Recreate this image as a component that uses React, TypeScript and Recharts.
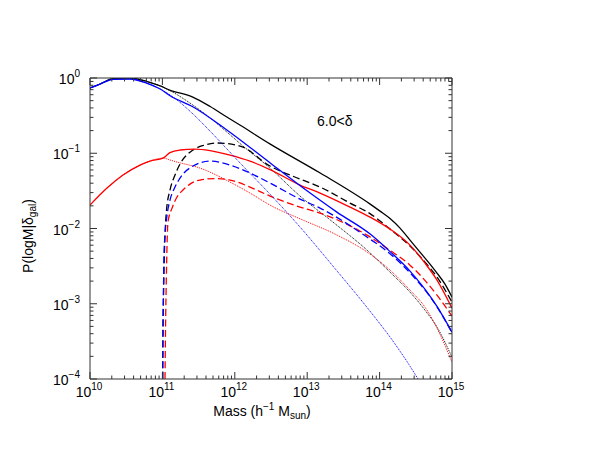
import { LineChart, Line, XAxis, YAxis } from 'recharts';

const W = 592;
const H = 458;
const FONT = '"Liberation Sans", Arial, Helvetica, sans-serif';
const AXIS = '#333';

// log10(M) and log10(P), one pair of arrays per curve
const blackTotalM = [10.0, 10.14, 10.32, 10.55, 10.79, 10.97, 11.1, 11.42, 11.66, 11.89, 12.07, 12.49, 13.18, 13.87, 14.006, 14.144, 14.282, 14.42, 14.558, 14.696, 14.793, 14.903, 15.0];
const blackTotalP = [-0.133, -0.08, -0.007, 0.0, -0.047, -0.106, -0.16, -0.253, -0.379, -0.519, -0.625, -0.878, -1.263, -1.676, -1.769, -1.868, -1.995, -2.154, -2.314, -2.473, -2.593, -2.739, -2.912];

const blackCentralM = [10.0, 10.14, 10.32, 10.55, 10.79, 10.97, 11.1, 11.42, 11.66, 11.89, 12.113, 12.486, 12.901, 13.356, 13.826, 14.144, 14.42, 14.627, 14.793, 15.0];
const blackCentralP = [-0.133, -0.08, -0.007, 0.0, -0.047, -0.106, -0.166, -0.359, -0.532, -0.718, -0.904, -1.197, -1.569, -1.915, -2.287, -2.58, -2.846, -3.085, -3.311, -3.71];

const blackSatM = [11.004, 11.008, 11.015, 11.022, 11.036, 11.057, 11.105, 11.174, 11.243, 11.423, 11.588, 11.754, 12.072, 12.486, 12.901, 13.177, 13.591, 13.867, 14.144, 14.42, 14.627, 14.793, 15.0];
const blackSatP = [-4.0, -3.4, -2.9, -2.55, -2.088, -1.755, -1.489, -1.29, -1.144, -0.957, -0.891, -0.864, -0.904, -1.17, -1.343, -1.449, -1.662, -1.802, -2.008, -2.234, -2.447, -2.646, -2.979];

const redTotalM = [10.0, 10.235, 10.456, 10.691, 10.829, 11.008, 11.064, 11.105, 11.243, 11.45, 11.657, 11.934, 12.21, 12.486, 12.901, 13.177, 13.591, 13.867, 14.144, 14.42, 14.627, 14.793, 15.0];
const redTotalP = [-1.689, -1.463, -1.29, -1.157, -1.104, -1.064, -1.024, -0.991, -0.957, -0.944, -0.964, -1.024, -1.104, -1.217, -1.423, -1.529, -1.715, -1.848, -2.008, -2.221, -2.46, -2.686, -3.059];

const redCentralM = [10.0, 10.235, 10.456, 10.691, 10.829, 11.008, 11.105, 11.202, 11.519, 11.934, 12.21, 12.486, 12.942, 13.356, 13.867, 14.144, 14.42, 14.627, 14.793, 15.0];
const redCentralP = [-1.689, -1.463, -1.29, -1.157, -1.104, -1.064, -1.09, -1.117, -1.197, -1.383, -1.529, -1.689, -1.888, -2.061, -2.34, -2.553, -2.819, -3.045, -3.324, -3.777];

const redSatM = [11.036, 11.043, 11.054, 11.064, 11.077, 11.133, 11.202, 11.285, 11.381, 11.519, 11.727, 11.934, 12.21, 12.486, 12.901, 13.177, 13.826, 14.144, 14.42, 14.793, 15.0];
const redSatP = [-4.0, -3.351, -2.686, -2.221, -1.915, -1.729, -1.582, -1.489, -1.41, -1.356, -1.336, -1.356, -1.449, -1.569, -1.715, -1.795, -2.088, -2.29, -2.487, -2.886, -3.165];

const blueTotalM = [10.0, 10.14, 10.32, 10.55, 10.79, 10.97, 11.1, 11.42, 11.89, 12.49, 13.04, 13.41, 13.87, 14.144, 14.42, 14.79, 15.0];
const blueTotalP = [-0.133, -0.08, -0.017, -0.013, -0.07, -0.146, -0.233, -0.382, -0.691, -1.13, -1.529, -1.782, -2.074, -2.307, -2.566, -3.032, -3.378];

const blueCentralM = [10.0, 10.14, 10.32, 10.55, 10.79, 10.97, 11.202, 11.423, 11.657, 11.892, 12.113, 12.486, 12.901, 13.356, 13.867, 14.185, 14.42, 14.558];
const blueCentralP = [-0.133, -0.08, -0.017, -0.013, -0.07, -0.146, -0.293, -0.479, -0.705, -0.944, -1.17, -1.543, -1.981, -2.5, -3.098, -3.497, -3.83, -4.043];

const blueSatM = [11.004, 11.008, 11.015, 11.022, 11.036, 11.064, 11.105, 11.174, 11.243, 11.423, 11.657, 11.934, 12.21, 12.486, 12.901, 13.177, 13.826, 14.144, 14.42, 14.793, 15.0];
const blueSatP = [-4.0, -3.351, -2.819, -2.354, -2.088, -1.822, -1.622, -1.449, -1.33, -1.17, -1.104, -1.157, -1.263, -1.396, -1.609, -1.729, -2.114, -2.335, -2.59, -3.04, -3.385];

const xMajorExp = [10, 11, 12, 13, 14, 15];
const yMajorExp = [-4, -3, -2, -1, 0];

const zip = (m: number[], p: number[]) => m.map((v, i) => ({ m: v, p: p[i] }));

const minorOf = (majors: number[]) => {
  const out: number[] = [];
  majors.slice(0, -1).forEach((n) => {
    for (let k = 2; k <= 9; k++) out.push(n + Math.log10(k));
  });
  return out;
};

const xTicks = [...xMajorExp, ...minorOf(xMajorExp)].sort((a, b) => a - b);
const yTicks = [...yMajorExp, ...minorOf(yMajorExp)].sort((a, b) => a - b);

const STYLES: Record<string, { dash?: string; width: number }> = {
  solid: { width: 1.3 },
  dashed: { dash: '7 3.5', width: 1.3 },
  dotted: { dash: '1 1', width: 1 },
};

const series = [
  { key: 'blackCentral', data: zip(blackCentralM, blackCentralP), color: '#000000', style: 'dotted' },
  { key: 'blackSat', data: zip(blackSatM, blackSatP), color: '#000000', style: 'dashed' },
  { key: 'blackTotal', data: zip(blackTotalM, blackTotalP), color: '#000000', style: 'solid' },
  { key: 'redCentral', data: zip(redCentralM, redCentralP), color: '#ff0000', style: 'dotted' },
  { key: 'redSat', data: zip(redSatM, redSatP), color: '#ff0000', style: 'dashed' },
  { key: 'redTotal', data: zip(redTotalM, redTotalP), color: '#ff0000', style: 'solid' },
  { key: 'blueCentral', data: zip(blueCentralM, blueCentralP), color: '#0000ff', style: 'dotted' },
  { key: 'blueSat', data: zip(blueSatM, blueSatP), color: '#0000ff', style: 'dashed' },
  { key: 'blueTotal', data: zip(blueTotalM, blueTotalP), color: '#0000ff', style: 'solid' },
];

const isMajor = (v: number) => Math.abs(v - Math.round(v)) < 1e-6;
const expLabel = (v: number) => {
  const n = Math.round(v);
  return n < 0 ? `\u2212${-n}` : `${n}`;
};

const XTick = ({ x, y, payload, side }: any) => {
  const v = payload.value;
  const major = isMajor(v);
  const len = major ? 7 : 3.5;
  const dir = side === 'top' ? 1 : -1;
  return (
    <g>
      <line x1={x} x2={x} y1={y} y2={y + dir * len} stroke={AXIS} strokeWidth={1} />
      {side === 'bottom' && major && (
        <text x={x - 1} y={y + 18} textAnchor="middle" fontFamily={FONT} fontSize={14} fill="#000">
          10<tspan dy={-7} fontSize={10}>{expLabel(v)}</tspan>
        </text>
      )}
    </g>
  );
};

const YTick = ({ x, y, payload, side }: any) => {
  const v = payload.value;
  const major = isMajor(v);
  const len = major ? 7 : 3.5;
  const dir = side === 'left' ? 1 : -1;
  return (
    <g>
      <line x1={x} x2={x + dir * len} y1={y} y2={y} stroke={AXIS} strokeWidth={1} />
      {side === 'left' && major && (
        <text x={x - 10} y={y + 6} textAnchor="end" fontFamily={FONT} fontSize={14} fill="#000">
          10<tspan dy={-7} fontSize={10}>{expLabel(v)}</tspan>
        </text>
      )}
    </g>
  );
};

const axisCommon = {
  interval: 0 as const,
  tickSize: 0,
  tickMargin: 0,
  tickLine: false,
  axisLine: { stroke: AXIS },
  allowDataOverflow: true,
  type: 'number' as const,
};

export default function App() {
  return (
    <div style={{ position: 'absolute', left: 0, top: 0, width: W, height: H, background: '#fff' }}>
      <LineChart width={W} height={H} margin={{ top: 77, right: 139, bottom: 78, left: 89 }}>
        <XAxis
          {...axisCommon}
          xAxisId="b"
          dataKey="m"
          domain={[10, 15]}
          ticks={xTicks}
          height={1}
          tick={(p: any) => <XTick {...p} side="bottom" />}
        />
        <XAxis
          {...axisCommon}
          xAxisId="t"
          orientation="top"
          dataKey="m"
          domain={[10, 15]}
          ticks={xTicks}
          height={1}
          tick={(p: any) => <XTick {...p} side="top" />}
        />
        <YAxis
          {...axisCommon}
          yAxisId="l"
          dataKey="p"
          domain={[-4, 0]}
          ticks={yTicks}
          width={1}
          tick={(p: any) => <YTick {...p} side="left" />}
        />
        <YAxis
          {...axisCommon}
          yAxisId="r"
          orientation="right"
          dataKey="p"
          domain={[-4, 0]}
          ticks={yTicks}
          width={1}
          tick={(p: any) => <YTick {...p} side="right" />}
        />
        {series.map((s) => (
          <Line
            key={s.key}
            xAxisId="b"
            yAxisId="l"
            data={s.data}
            dataKey="p"
            type="monotone"
            stroke={s.color}
            strokeWidth={STYLES[s.style].width}
            strokeDasharray={STYLES[s.style].dash}
            dot={false}
            activeDot={false}
            isAnimationActive={false}
          />
        ))}
      </LineChart>
      <svg width={W} height={H} style={{ position: 'absolute', left: 0, top: 0, pointerEvents: 'none' }}>
        <text x={317} y={126} fontFamily={FONT} fontSize={14} fill="#000">
          6.0&lt;δ
        </text>
        <text x={262} y={416} textAnchor="middle" fontFamily={FONT} fontSize={14} fill="#000">
          Mass (h<tspan dy={-6} fontSize={10}>{'\u22121'}</tspan>
          <tspan dy={6}> M</tspan>
          <tspan dy={3} fontSize={10}>sun</tspan>
          <tspan dy={-3}>)</tspan>
        </text>
        <text
          x={33}
          y={236}
          transform="rotate(-90 33 236)"
          textAnchor="middle"
          fontFamily={FONT}
          fontSize={14}
          fill="#000"
        >
          P(logM|δ<tspan dy={3} fontSize={10}>gal</tspan>
          <tspan dy={-3}>)</tspan>
        </text>
      </svg>
    </div>
  );
}
